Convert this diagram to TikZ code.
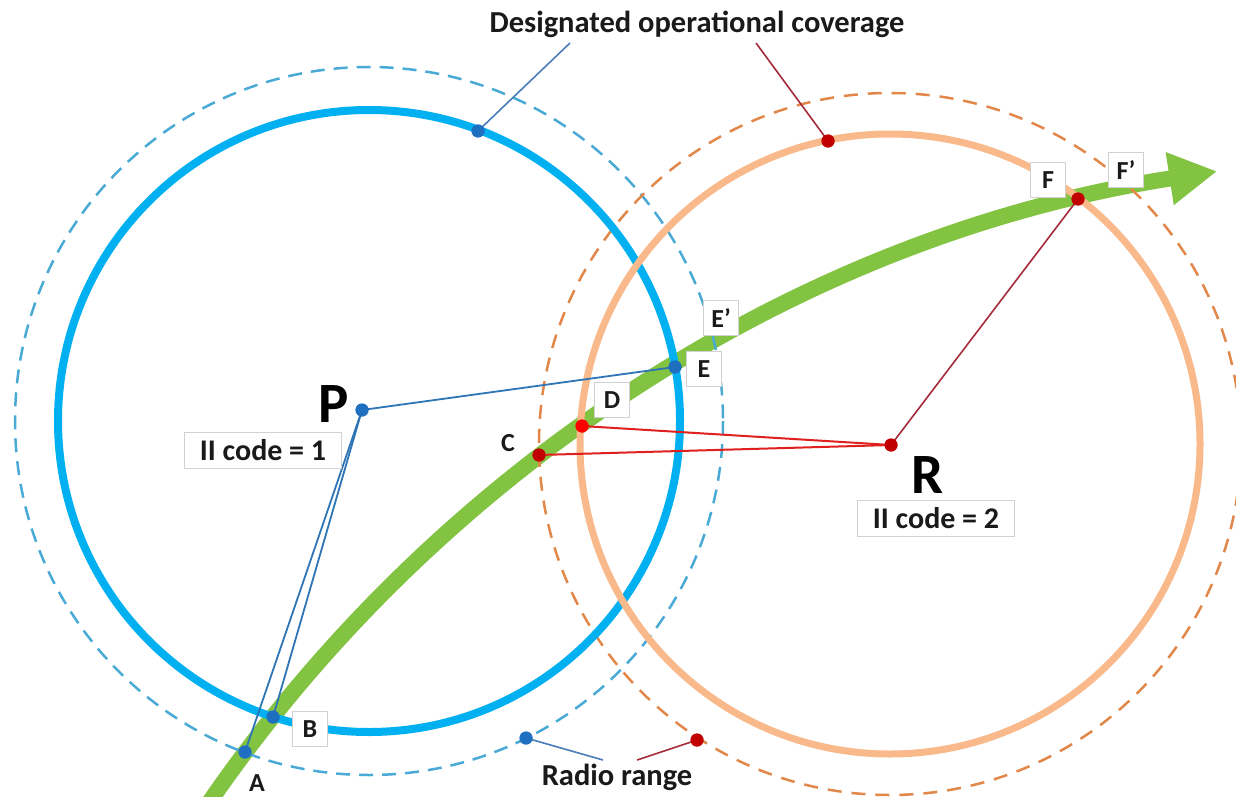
\documentclass[tikz,border=0pt]{standalone}
\usepackage{fontspec}
\setmainfont{Carlito}
\usetikzlibrary{arrows.meta}
\definecolor{bluesolid}{HTML}{00B0F0}
\definecolor{bluedashc}{HTML}{4AAAD6}
\definecolor{orsolid}{HTML}{F9B98B}
\definecolor{ordashc}{HTML}{E2874A}
\definecolor{greenc}{HTML}{82C341}
\definecolor{bluedotc}{HTML}{1F6FC0}
\definecolor{reddotc}{HTML}{C00000}
\definecolor{brightred}{HTML}{FF0000}
\definecolor{blueline}{HTML}{2E75B6}
\definecolor{redline}{HTML}{E0201E}
\definecolor{bleaderc}{HTML}{4A7EBB}
\definecolor{rleaderc}{HTML}{A52A3A}
\definecolor{txt}{HTML}{1A1A1A}
\begin{document}
\begin{tikzpicture}[x=1pt,y=-1pt,
  bluecirc/.style={draw=bluesolid, line width=8pt},
  bluedash/.style={draw=bluedashc, line width=2.5pt, dash pattern=on 14pt off 9pt},
  orcirc/.style={draw=orsolid, line width=7pt},
  ordash/.style={draw=ordashc, line width=2.5pt, dash pattern=on 14pt off 10pt},
  greenarrow/.style={draw=greenc, line width=16pt, -{Triangle[length=48pt,width=50pt]}},
  bdot/.style={circle, fill=bluedotc, inner sep=0pt, minimum size=13pt},
  rdot/.style={circle, fill=reddotc, inner sep=0pt, minimum size=13pt},
  pline/.style={draw=blueline, line width=1.8pt},
  rline/.style={draw=redline, line width=2pt},
  bleader/.style={draw=bleaderc, line width=1.6pt},
  rleader/.style={draw=rleaderc, line width=1.6pt},
  lbox/.style={draw=black!18, fill=white, line width=1pt, minimum width=35pt, minimum height=35pt, inner sep=0pt, text=txt, font=\fontsize{26}{30}\selectfont\bfseries},
  codebox/.style={draw=black!18, fill=white, line width=1pt, minimum width=157pt, minimum height=36pt, inner sep=0pt, text=txt, font=\fontsize{30}{34}\selectfont\bfseries},
  plain/.style={inner sep=0pt, text=txt, font=\fontsize{26}{30}\selectfont\bfseries},
  ttl/.style={inner sep=0pt, anchor=base, text=txt, font=\fontsize{30.5}{34}\selectfont\bfseries},
  big/.style={inner sep=0pt, anchor=base, text=black, font=\fontsize{57}{60}\selectfont\bfseries}
]
\useasboundingbox (0,0) rectangle (1236,797);
\fill[white] (0,0) rectangle (1236,797);

% centres
\coordinate (Pc) at (369,421);
\coordinate (Rc) at (890,444);
\coordinate (Gc) at (1444,1654);

% green trajectory
\draw[greenarrow] ([shift={(213:1500)}]Gc) arc[start angle=213, end angle=261.3, radius=1500];

% circles
\draw[bluedash] (Pc) circle[radius=354];
\draw[ordash] (Rc) circle[radius=351];
\draw[bluecirc] (Pc) circle[radius=311];
\draw[orcirc] (Rc) circle[radius=310];

% points
\node[bdot] (P) at (362,410) {};
\node[bdot] (A) at (245,752) {};
\node[bdot] (B) at (273,717) {};
\node[bdot] (E) at (675,367) {};
\node[bdot] (btop) at (478,131) {};
\node[bdot] (bbot) at (526,738) {};
\node[rdot] (R) at (891,445) {};
\node[rdot] (C) at (539,455) {};
\node[rdot, fill=brightred] (D) at (582,426) {};
\node[rdot] (F) at (1078,199) {};
\node[rdot] (rtop) at (828,141) {};
\node[rdot] (rbot) at (697,740) {};

% connectors
\draw[pline] (P.center) -- (A.center);
\draw[pline] (P.center) -- (B.center);
\draw[pline] (P.center) -- (E.center);
\draw[rline] (R.center) -- (C.center);
\draw[rline] (R.center) -- (D.center);
\draw[rleader] (R.center) -- (F.center);

% leaders
\coordinate (l1) at (570,43);
\coordinate (l2) at (756,43);
\coordinate (l3) at (603,760);
\coordinate (l4) at (637,760);
\draw[bleader] (btop.center) -- (l1);
\draw[rleader] (rtop.center) -- (l2);
\draw[bleader] (bbot.center) -- (l3);
\draw[rleader] (rbot.center) -- (l4);

% redraw dots on top
\foreach \n in {P,A,B,E,btop,bbot} \fill[bluedotc] (\n) circle[radius=6.5];
\foreach \n in {R,C,F,rtop,rbot} \fill[reddotc] (\n) circle[radius=6.5];
\fill[brightred] (D) circle[radius=6.5];

% labels
\node[ttl] (dtitle) at (697,33) {Designated operational coverage};
\node[ttl] (radio) at (617,785) {Radio range};
\node[big] (Plab) at (334,422) {P};
\node[big] (Rlab) at (928,493) {R};
\node[codebox] (code1) at (263,450) {II code = 1};
\node[codebox] (code2) at (936,518) {II code = 2};
\node[plain, anchor=base] (Alab) at (257,791) {A};
\node[plain] (Clab) at (508,443) {C};
\node[lbox] (Blab) at (310,729) {B};
\node[lbox] (Dlab) at (612,400) {D};
\node[lbox] (Elab) at (704,369) {E};
\node[lbox] (Eplab) at (721,318) {E’};
\node[lbox] (Flab) at (1048,180) {F};
\node[lbox] (Fplab) at (1126,170) {F’};
\end{tikzpicture}
\end{document}
